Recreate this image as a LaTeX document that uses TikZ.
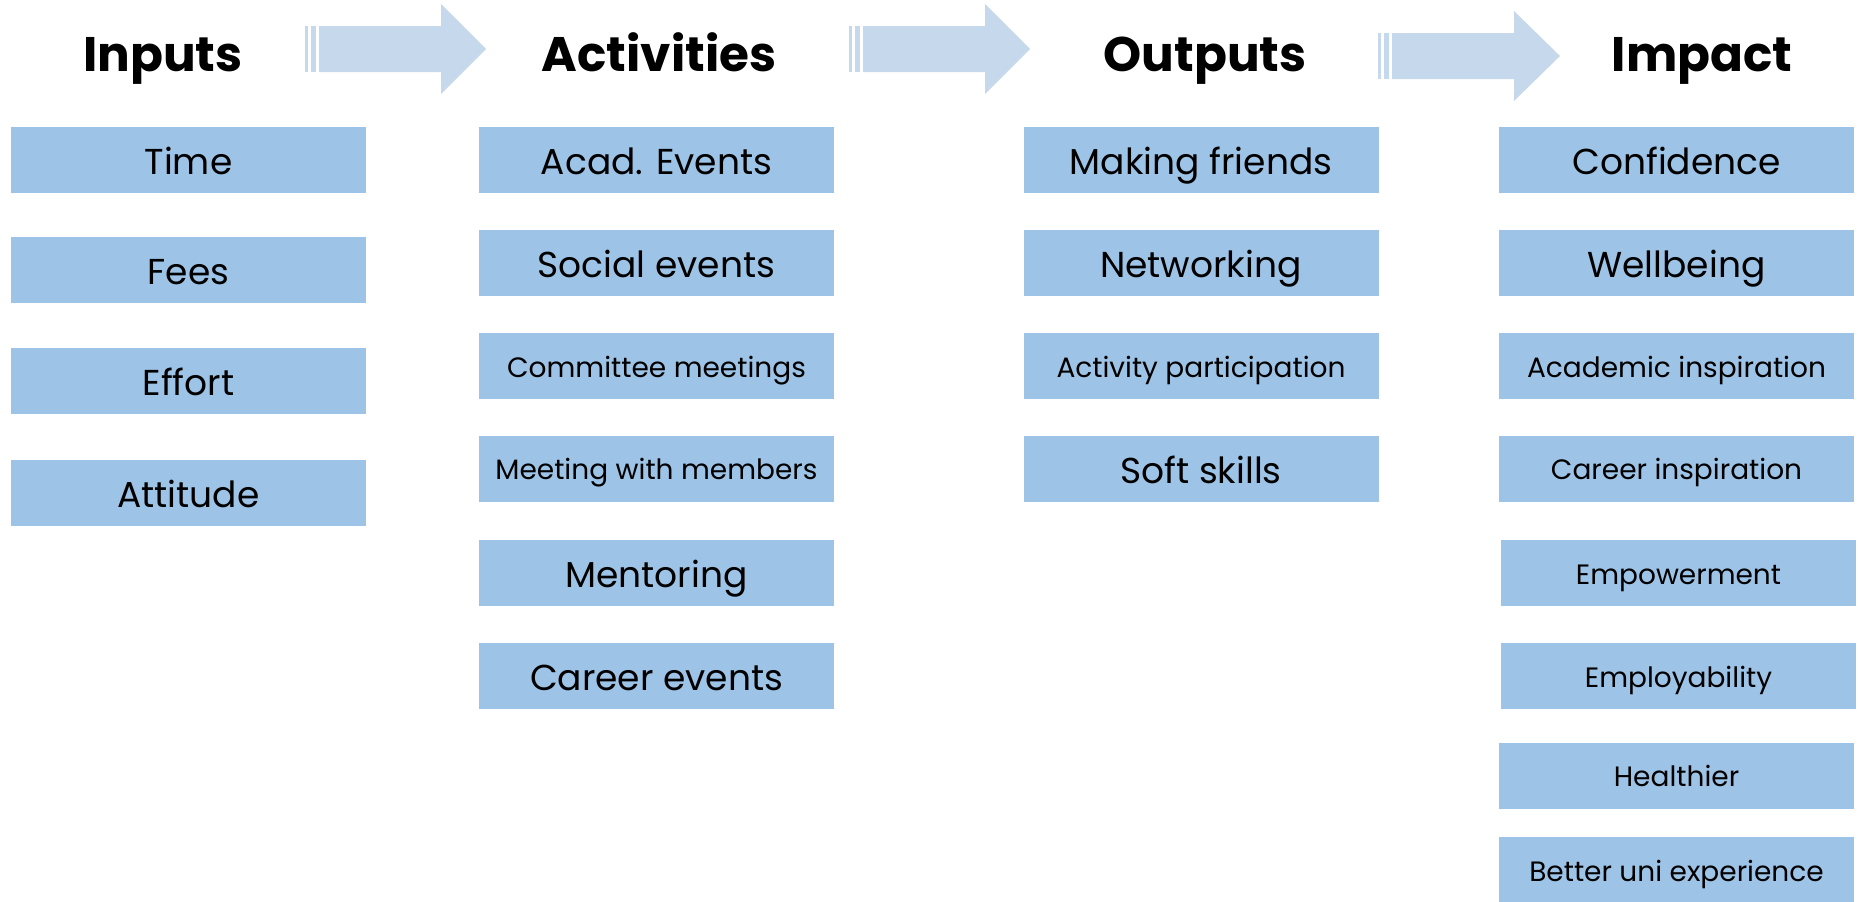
\documentclass[tikz,border=0pt]{standalone}
\usepackage{fontspec}
\setmainfont{Poppins}
\definecolor{boxblue}{RGB}{157,195,230}
\definecolor{arrowblue}{RGB}{197,216,236}
\tikzset{
  box/.style={rectangle, fill=boxblue, minimum width=355pt, minimum height=66pt, inner sep=0pt, text=black, text depth=0pt},
  big/.style={box, font=\fontsize{36}{40}\selectfont, text height=29pt},
  small/.style={box, font=\fontsize{28}{32}\selectfont, text height=22.6pt},
  head/.style={anchor=base, font=\bfseries\fontsize{48.5}{52}\selectfont, inner sep=0pt},
}
\begin{document}
\begin{tikzpicture}[x=1pt,y=-1pt]
\useasboundingbox (0,0) rectangle (1858,902);
% arrows
\newcommand{\stripearrow}[6]{%
  \fill[arrowblue] (#1,#5-23) rectangle (#1+3,#5+23);
  \fill[arrowblue] (#2,#5-23) rectangle (#2+5,#5+23);
  \fill[arrowblue] (#3,#5-23) -- (#4,#5-23) -- (#4,#5-45) -- (#6,#5) -- (#4,#5+45) -- (#4,#5+23) -- (#3,#5+23) -- cycle;}
\stripearrow{305}{311}{319}{441}{49}{486}
\stripearrow{849}{855}{863}{985}{49}{1030}
\stripearrow{1378}{1384}{1392}{1514}{56}{1560}
% headers
\node[head] (hin) at (163,71) {Inputs};
\node[head] (hact) at (659,71) {Activities};
\node[head] (hout) at (1205,71) {Outputs};
\node[head] (himp) at (1702,71) {Impact};
% inputs
\node[big] (i1) at (188.5,159.5) {Time};
\node[big] (i2) at (188.5,269.5) {Fees};
\node[big] (i3) at (188.5,381) {Effort};
\node[big] (i4) at (188.5,492.5) {Attitude};
% activities
\node[big] (a1) at (656.5,159.5) {Acad. Events};
\node[big] (a2) at (656.5,262.5) {Social events};
\node[small] (a3) at (656.5,366) {Committee meetings};
\node[small] (a4) at (656.5,468.5) {Meeting with members};
\node[big] (a5) at (656.5,573) {Mentoring};
\node[big] (a6) at (656.5,676) {Career events};
% outputs
\node[big] (o1) at (1201,159.5) {Making friends};
\node[big] (o2) at (1201,262.5) {Networking};
\node[small] (o3) at (1201,366) {Activity participation};
\node[big] (o4) at (1201,468.5) {Soft skills};
% impact
\node[big] (m1) at (1676.5,159.5) {Confidence};
\node[big] (m2) at (1676.5,262.5) {Wellbeing};
\node[small] (m3) at (1676.5,366) {Academic inspiration};
\node[small] (m4) at (1676.5,468.5) {Career inspiration};
\node[small] (m5) at (1678.5,573) {Empowerment};
\node[small] (m6) at (1678.5,676) {Employability};
\node[small] (m7) at (1676.5,775.5) {Healthier};
\node[small] (m8) at (1676.5,870) {Better uni experience};
\end{tikzpicture}
\end{document}
